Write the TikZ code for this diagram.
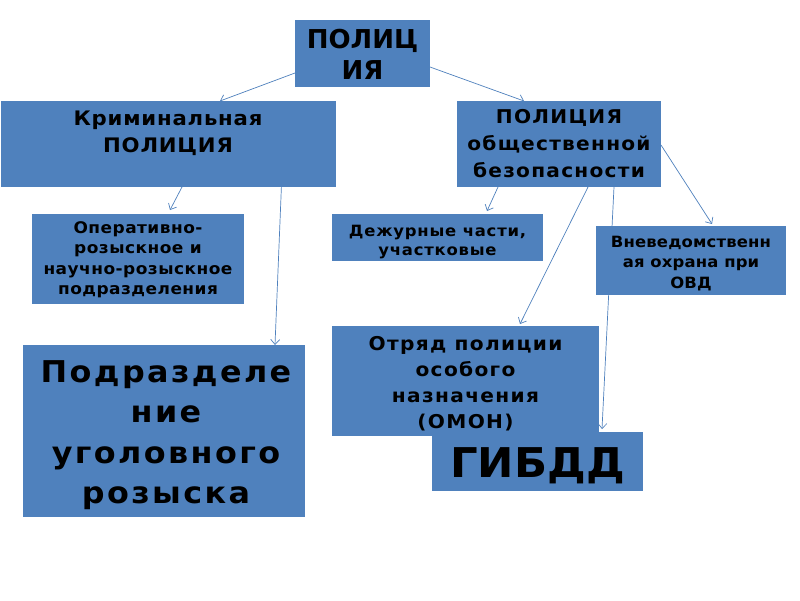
\documentclass[tikz,border=0pt]{standalone}
\usepackage{fontspec}
\setmainfont{DejaVu Sans}
\usetikzlibrary{arrows.meta}
\definecolor{boxblue}{RGB}{79,129,189}
\definecolor{linkblue}{RGB}{79,129,189}
\pgfdeclarelayer{bg}
\pgfsetlayers{bg,main}
\tikzset{
  box/.style={fill=boxblue, draw=none, inner sep=0pt, outer sep=0pt},
  txt/.style={inner sep=0pt, align=center, text=black, anchor=north},
  link/.style={draw=linkblue, line width=0.7pt, -{Straight Barb[length=5pt,width=9pt]}},
}
% name, x1, y1, x2, y2
\newcommand\mkbox[5]{\node[box, minimum width={(#4-#2)*1pt}, minimum height={(#5-#3)*1pt}] (#1) at ({(#2+#4)/2},{(#3+#5)/2}) {};}
% [letterspace] name, cx, first baseline, size, skip, text
\newcommand\mktxt[7][0]{\node[txt, font=\fontsize{#5}{#6}\selectfont\bfseries\addfontfeature{LetterSpace=#1,FakeStretch=1.06}] (#2) at (#3,{#4-#5}) {\rule{0pt}{#5pt}#7};}
\begin{document}
\begin{tikzpicture}[x=1pt,y=-1pt]
\useasboundingbox (0,0) rectangle (800,600);
\begin{pgfonlayer}{bg}
\fill[white] (0,0) rectangle (800,600);
\end{pgfonlayer}
\mkbox{top}{295}{20}{430}{87}
\mkbox{krim}{1}{101}{336}{187}
\mkbox{pob}{457}{101}{661}{187}
\mkbox{oper}{32}{214}{244}{304}
\mkbox{dezh}{332}{214}{543}{261}
\mkbox{vned}{596}{226}{786}{295}
\mkbox{podr}{23}{345}{305}{517}
\mkbox{otr}{332}{326}{599}{436}
\mkbox{gibdd}{432}{432}{643}{491}

\node[txt, font=\fontsize{26}{31}\selectfont\bfseries] (ttop) at (362.5,22) {\rule{0pt}{26pt}ПОЛИЦ\\ИЯ};
\mktxt[4]{tkrim}{168}{125}{20}{27}{Криминальная\\ПОЛИЦИЯ}
\mktxt[6.5]{tpob}{559}{123}{19}{27}{ПОЛИЦИЯ\\общественной\\безопасности}
\mktxt[3]{toper}{138}{233}{16}{20.5}{Оперативно-\\розыскное и\\научно-розыскное\\подразделения}
\mktxt[5]{tdezh}{437.5}{236}{15.5}{19}{Дежурные части,\\участковые}
\mktxt[1]{tvned}{691}{247}{15.5}{20.5}{Вневедомственн\\ая охрана при\\ОВД}
\mktxt[7]{totr}{465.5}{350}{19}{26}{Отряд полиции\\особого\\назначения\\(ОМОН)}
\mktxt[0]{tgibdd}{537.5}{477}{41}{41}{ГИБДД}
\mktxt[8]{tpodr}{166}{382}{30}{40.5}{Подразделе\\ние\\уголовного\\розыска}

\begin{pgfonlayer}{bg}
\draw[link] ([yshift=-19.5pt]top.west) -- ([xshift=219pt]krim.north west);
\draw[link] ([yshift=-13.5pt]top.east) -- ([xshift=67pt]pob.north west);
\draw[link] ([xshift=181pt]krim.south west) -- ([xshift=138pt,yshift=4pt]oper.north west);
\draw[link] ([xshift=281pt,yshift=15pt]krim.south west) -- ([xshift=252pt]podr.north west);
\draw[link] ([xshift=41pt]pob.south west) -- ([xshift=155pt,yshift=3pt]dezh.north west);
\draw[link] ([xshift=131pt]pob.south west) -- ([xshift=188pt,yshift=2pt]otr.north west);
\draw[link] ([xshift=157pt]pob.south west) -- ([xshift=170pt,yshift=3pt]gibdd.north west);
\draw[link] ([yshift=-1pt]pob.east) -- ([xshift=116pt,yshift=2pt]vned.north west);
\end{pgfonlayer}
\end{tikzpicture}
\end{document}
